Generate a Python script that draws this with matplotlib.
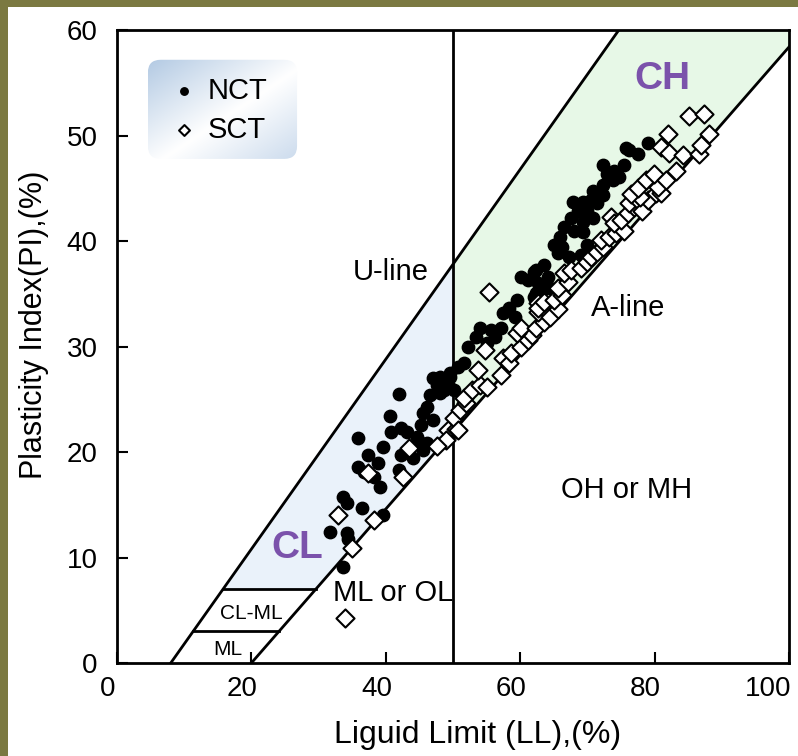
import matplotlib as mpl
mpl.use('Agg')
import matplotlib.pyplot as plt
from matplotlib.patches import Polygon, Rectangle, FancyBboxPatch
from matplotlib.transforms import ScaledTranslation
import numpy as np

plt.rcParams['font.family'] = ['Liberation Sans', 'DejaVu Sans']

# liquid limit / plasticity index, normally consolidated (NCT)
nct_ll = [33.7, 31.7, 34.3, 34.4, 33.7, 34.3, 36.5, 39.6, 35.8, 37.4,
          35.9, 36.7, 38.9, 38.2, 39.2, 41.9, 42.2, 44.1, 39.6, 40.8,
          40.7, 41.9, 42.2, 43.2, 44.7, 45.2, 46.2, 45.6, 45.2, 45.6,
          47.1, 46.2, 46.6, 47.7, 48.6, 49.6, 47.1, 47.7, 49.2, 50.1,
          48.1, 48.1, 49.6, 50.7, 51.6, 52.2, 53.4, 54.1, 55.1, 55.6,
          56.3, 57.1, 57.5, 58.3, 59.3, 59.6, 60.1, 61.1, 62.0, 62.7,
          62.3, 63.5, 63.8, 62.0, 63.0, 64.5, 64.1, 62.3, 65.0, 66.3,
          65.6, 67.2, 69.0, 70.0, 66.0, 66.5, 68.0, 69.3, 67.5, 67.8,
          68.6, 69.3, 70.0, 70.8, 69.3, 70.5, 71.5, 72.3, 70.9, 72.4,
          73.8, 74.7, 73.0, 72.3, 73.9, 75.4, 75.7, 76.2, 77.6, 79.0]
nct_pi = [9.1, 12.4, 12.3, 11.8, 15.7, 15.2, 14.7, 14.0, 21.3, 19.7,
          18.6, 18.1, 19.0, 17.6, 16.7, 18.3, 19.7, 19.4, 20.5, 21.9,
          23.4, 25.5, 22.3, 21.9, 21.4, 20.9, 20.9, 20.2, 22.6, 23.7,
          23.0, 24.3, 25.4, 26.8, 25.9, 27.1, 27.0, 26.4, 26.5, 25.9,
          25.6, 27.1, 27.5, 28.1, 28.4, 30.0, 30.9, 31.8, 30.3, 31.6,
          30.9, 31.8, 33.2, 33.7, 32.8, 34.4, 36.6, 36.3, 37.1, 36.0,
          35.1, 37.7, 35.6, 34.7, 35.6, 35.6, 36.6, 37.3, 39.6, 39.4,
          38.9, 38.5, 38.7, 39.6, 40.4, 41.3, 41.0, 40.9, 42.2, 43.7,
          42.9, 43.7, 42.9, 42.2, 41.8, 43.9, 43.6, 44.4, 44.8, 45.3,
          45.8, 46.1, 46.4, 47.2, 46.7, 47.2, 48.8, 48.6, 48.3, 49.3]

# structured (SCT)
sct_ll = [32.9, 34.0, 35.0, 38.2, 37.4, 42.6, 43.4, 49.2, 50.4, 50.1,
          50.7, 51.1, 51.9, 51.6, 52.9, 54.1, 55.1, 53.8, 54.8, 55.3,
          57.1, 57.5, 58.3, 58.6, 60.1, 61.1, 61.8, 59.6, 60.1, 62.3,
          63.5, 62.6, 62.7, 63.8, 64.5, 65.6, 62.6, 63.5, 65.0, 66.3,
          65.7, 67.1, 66.5, 67.5, 69.0, 70.0, 70.5, 71.5, 72.4, 72.0,
          73.2, 74.2, 75.4, 73.5, 73.9, 75.0, 76.0, 76.9, 76.2, 77.9,
          78.2, 79.1, 77.9, 76.5, 77.5, 78.7, 80.2, 80.9, 80.5, 79.9,
          81.7, 83.2, 80.9, 82.1, 84.2, 86.6, 86.9, 88.1, 82.0, 85.1,
          87.3, 48.9, 47.7]
sct_pi = [14.0, 4.3, 10.9, 13.6, 18.0, 17.6, 20.4, 22.1, 22.2, 23.2,
          22.1, 24.0, 24.7, 25.1, 25.9, 26.4, 26.2, 27.8, 29.7, 35.2,
          27.3, 28.9, 28.4, 29.4, 30.0, 30.6, 31.1, 31.3, 31.8, 31.8,
          32.3, 33.3, 34.1, 33.5, 32.8, 33.6, 33.7, 34.2, 34.4, 34.9,
          35.6, 36.1, 37.0, 37.3, 37.5, 38.0, 38.5, 39.0, 39.4, 40.1,
          40.4, 40.8, 41.0, 42.3, 41.7, 42.0, 42.7, 43.2, 43.6, 43.7,
          42.9, 43.9, 44.2, 44.5, 45.0, 45.8, 44.6, 44.6, 45.1, 46.4,
          45.8, 46.7, 48.9, 48.4, 48.2, 48.3, 49.1, 50.2, 50.2, 51.9,
          52.1, 21.1, 20.6]

x_ticks = [0, 20, 40, 60, 80, 100]
y_ticks = [0, 10, 20, 30, 40, 50, 60]

# Casagrande chart lines: PI = slope * (LL - offset)
A_SLOPE, A_OFF = 0.73, 20.0
U_SLOPE, U_OFF = 0.9, 8.0
CL_ML_TOP = 7.0
ML_TOP = 3.0


def a_line(ll):
    return A_SLOPE * (ll - A_OFF)


def u_line(ll):
    return U_SLOPE * (ll - U_OFF)


def ll_on_a(pi):
    return pi / A_SLOPE + A_OFF


def ll_on_u(pi):
    return pi / U_SLOPE + U_OFF


fig = plt.figure(figsize=(7.98, 7.56), dpi=100)
ax = fig.add_axes([0.1466, 0.123, 0.842, 0.837])

# shaded CL and CH zones
cl_zone = Polygon([(ll_on_u(CL_ML_TOP), CL_ML_TOP), (ll_on_a(CL_ML_TOP), CL_ML_TOP),
                   (50, a_line(50)), (50, u_line(50))],
                  closed=True, facecolor='#eaf2fa', edgecolor='none', zorder=0)
ch_zone = Polygon([(50, a_line(50)), (100, a_line(100)), (100, 60),
                   (ll_on_u(60), 60), (50, u_line(50))],
                  closed=True, facecolor='#e7f8e7', edgecolor='none', zorder=0)
ax.add_patch(cl_zone)
ax.add_patch(ch_zone)

lw = 2.0
ax.plot([U_OFF, ll_on_u(60)], [0, 60], color='black', lw=lw, zorder=2)
ax.plot([A_OFF, 100], [0, a_line(100)], color='black', lw=lw, zorder=2)
ax.plot([50, 50], [0, 60], color='black', lw=lw, zorder=2)
for pi in (CL_ML_TOP, ML_TOP):
    ax.plot([ll_on_u(pi), ll_on_a(pi)], [pi, pi], color='black', lw=lw, zorder=2)

ax.scatter(nct_ll, nct_pi, s=80, marker='o', color='black', zorder=3, label='NCT')
ax.scatter(sct_ll, sct_pi, s=85, marker='D', facecolor='white', edgecolor='black',
           linewidths=1.5, zorder=4, label='SCT')

# zone labels
purple = '#7b52ab'
ax.text(26.8, 10.9, 'CL', color=purple, fontsize=28, fontweight='bold', ha='center', va='center')
ax.text(81.2, 55.4, 'CH', color=purple, fontsize=28, fontweight='bold', ha='center', va='center')
ax.text(40.8, 37.1, 'U-line', fontsize=21, ha='center', va='center')
ax.text(76.0, 33.7, 'A-line', fontsize=21, ha='center', va='center')
ax.text(75.9, 16.4, 'OH or MH', fontsize=21, ha='center', va='center')
ax.text(41.1, 6.6, 'ML or OL', fontsize=21, ha='center', va='center')
ax.text(20.0, 4.7, 'CL-ML', fontsize=15, ha='center', va='center')
ax.text(16.5, 1.3, 'ML', fontsize=15, ha='center', va='center')

# legend box with a diagonal blue-white gradient
box = FancyBboxPatch((4.6, 47.8), 22.2, 9.4,
                     boxstyle='round,pad=0,rounding_size=1.9', mutation_aspect=0.636,
                     facecolor='none', edgecolor='none', zorder=5)
ax.add_patch(box)
gx, gy = np.meshgrid(np.linspace(0, 1, 200), np.linspace(0, 1, 200))
t = (gx + gy) / 2
blue_a = np.array([0.70, 0.79, 0.89])
blue_b = np.array([0.80, 0.86, 0.93])
white = np.array([1.0, 1.0, 1.0])
w1 = np.clip(t / 0.55, 0, 1)[..., None]
w2 = np.clip((t - 0.55) / 0.45, 0, 1)[..., None]
grad = np.where(t[..., None] < 0.55,
                blue_a * (1 - w1) + white * w1,
                white * (1 - w2) + blue_b * w2)
img = ax.imshow(grad, extent=[4.6, 26.8, 47.8, 57.2], origin='upper',
                aspect='auto', zorder=5, interpolation='bilinear')
img.set_clip_path(box)

leg = ax.legend(loc='upper left', bbox_to_anchor=(0.05, 0.963), frameon=False,
                fontsize=21, markerscale=0.6, handlelength=0.7, handletextpad=0.45,
                labelspacing=0.38, borderpad=0.3)
leg.set_zorder(6)

ax.set_xlim(0, 100)
ax.set_ylim(0, 60)
ax.set_xticks(x_ticks)
ax.set_yticks(y_ticks)
ax.tick_params(axis='both', direction='in', length=8, width=1.5, labelsize=20)
ax.tick_params(axis='x', pad=9)
ax.tick_params(axis='y', pad=14)
for sp in ax.spines.values():
    sp.set_linewidth(2.0)

# x tick labels sit a little left of their ticks; the last one is pulled in further
for i, tick in enumerate(ax.xaxis.get_major_ticks()):
    dx = -21 if i == len(x_ticks) - 1 else -9
    tick.label1.set_transform(tick.label1.get_transform()
                              + ScaledTranslation(dx / 100, 0, fig.dpi_scale_trans))

ax.set_xlabel('Liguid Limit (LL),(%)', fontsize=23)
ax.set_ylabel('Plasticity Index(PI),(%)', fontsize=22)
ax.xaxis.set_label_coords(0.536, -0.114)
ax.yaxis.set_label_coords(-0.1235, 0.535)
ax.xaxis.label.set_va('center')
ax.yaxis.label.set_va('center')

# olive frame strips on the left and top edges
olive = '#7b7941'
fig.patches.append(Rectangle((0, 0), 8 / 798, 1, transform=fig.transFigure,
                             facecolor=olive, edgecolor='none', zorder=-1))
fig.patches.append(Rectangle((0, 1 - 7 / 756), 1, 7 / 756, transform=fig.transFigure,
                             facecolor=olive, edgecolor='none', zorder=-1))

fig.savefig('out.png', dpi=100)
